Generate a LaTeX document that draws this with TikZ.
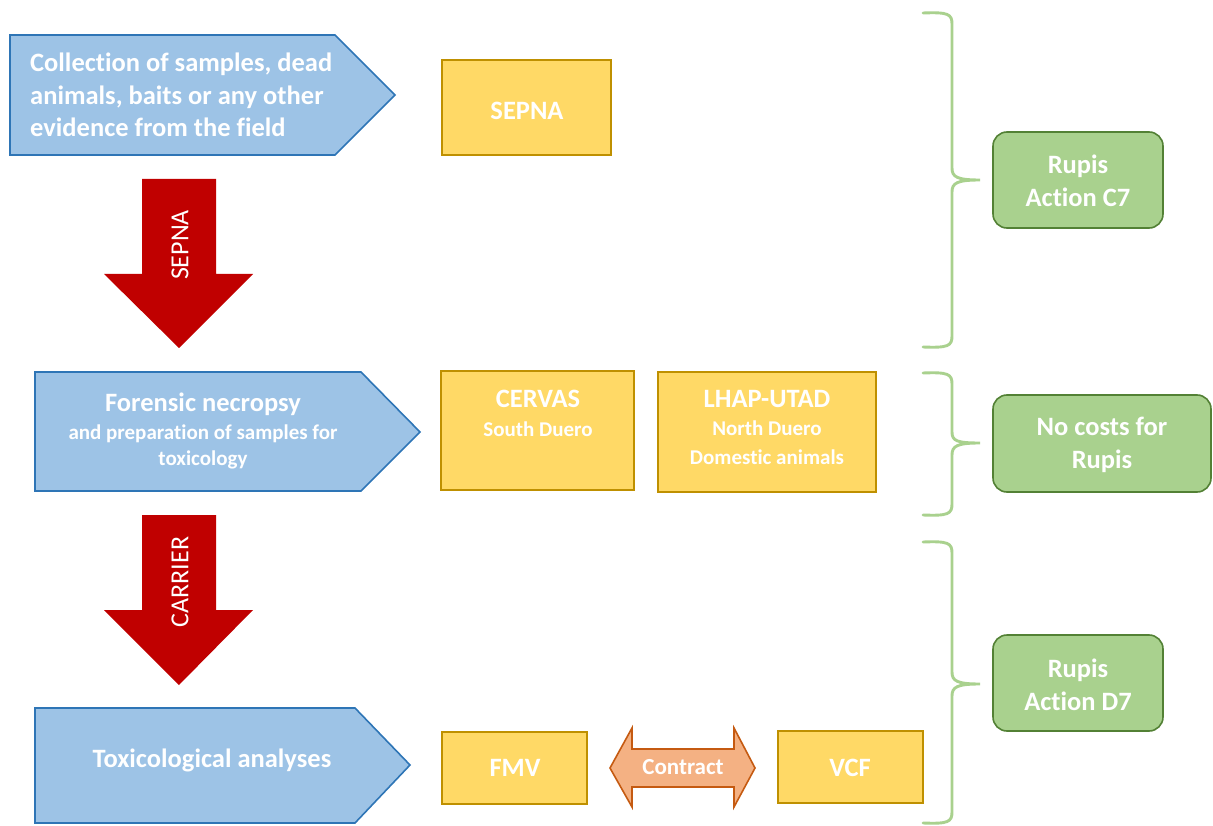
\documentclass[tikz,border=0pt]{standalone}
\usepackage{fontspec}
\setmainfont[Ligatures={NoCommon}]{Carlito}
\usetikzlibrary{positioning}
\definecolor{stageblue}{HTML}{9DC3E6}
\definecolor{stageedge}{HTML}{2E75B6}
\definecolor{labyellow}{HTML}{FFD966}
\definecolor{labedge}{HTML}{BF9000}
\definecolor{carryred}{HTML}{C00000}
\definecolor{dealfill}{HTML}{F4B183}
\definecolor{dealedge}{HTML}{C55A11}
\definecolor{fundgreen}{HTML}{A9D18E}
\definecolor{fundedge}{HTML}{538135}
\newcommand{\bigtxt}{\bfseries\fontsize{26.5}{32.5}\selectfont}
\newcommand{\smalltxt}{\bfseries\fontsize{21}{26}\selectfont}

\begin{document}
\begin{tikzpicture}[x=1pt, y=-1pt, line join=miter,
        stage/.style={fill=stageblue, draw=stageedge, line width=1.6pt},
        lab/.style={fill=labyellow, draw=labedge, line width=1.6pt},
        fund/.style={fill=fundgreen, draw=fundedge, line width=1.6pt, rounded corners=14pt},
        carry/.style={fill=carryred, draw=none},
        deal/.style={fill=dealfill, draw=dealedge, line width=1.6pt},
        brace/.style={draw=fundgreen, line width=2.9pt, line cap=round},
        txt/.style={text=white, inner sep=0pt, align=center, font=\bigtxt}]
        \useasboundingbox (0,0) rectangle (1213,826);

        % stages
        \draw[stage] (10,35) -- (335,35) -- (395,95) -- (335,155) -- (10,155) -- cycle;
        \draw[stage] (35,372) -- (361,372) -- (420,432) -- (361,491) -- (35,491) -- cycle;
        \draw[stage] (35,708) -- (355,708) -- (410,765) -- (355,823) -- (35,823) -- cycle;
        \node[txt, anchor=west, align=left] (collect) at (30,95)
            {Collection of samples, dead\\animals, baits or any other\\evidence from the field};
        \node[txt] (necropsy) at (203,431)
            {Forensic necropsy\\[-5pt]{\smalltxt and preparation of samples for}\\[-6pt]{\smalltxt toxicology}};
        \node[txt] (toxic) at (212,760) {Toxicological analyses};

        % carriers
        \draw[carry] (142,179) -- (216,179) -- (216,274) -- (253,274) -- (179,348)
            -- (104,274) -- (142,274) -- cycle;
        \draw[carry] (142,515) -- (216,515) -- (216,610) -- (253,610) -- (179,685)
            -- (104,610) -- (142,610) -- cycle;
        \node[txt, font=\fontsize{26}{30}\selectfont, rotate=90] (sepnaway) at (180,245) {SEPNA};
        \node[txt, font=\fontsize{26}{30}\selectfont, rotate=90] (carrier) at (180,582) {CARRIER};

        % laboratories
        \draw[lab] (442,60) rectangle (611,155);
        \draw[lab] (441,371) rectangle (634,490);
        \draw[lab] (658,372) rectangle (876,492);
        \draw[lab] (442,732) rectangle (587,804);
        \draw[lab] (778,731) rectangle (923,803);
        \node[txt] (sepna) at (527,111) {SEPNA};
        \node[txt, anchor=north] (cervas) at (538,390)
            {CERVAS\\[-4pt]{\smalltxt South Duero}};
        \node[txt, anchor=north] (lhap) at (767,390)
            {LHAP-UTAD\\[-4pt]{\smalltxt North Duero}\\[-4pt]{\smalltxt Domestic animals}};
        \node[txt] (fmv) at (515,768) {FMV};
        \node[txt] (vcf) at (850,768) {VCF};

        % contract
        \draw[deal] (610,768) -- (632,728) -- (632,749) -- (734,749) -- (734,728) -- (755,768)
            -- (734,807) -- (734,787) -- (632,787) -- (632,807) -- cycle;
        \node[txt, font=\bfseries\fontsize{23}{28}\selectfont] (contract) at (683,767) {Contract};

        % braces
        \draw[brace] (923,13) .. controls (948,12) and (952,14) .. (952,24) -- (952,168)
            .. controls (952,177) and (957,180) .. (980,180)
            .. controls (957,180) and (952,183) .. (952,192) -- (952,336)
            .. controls (952,346) and (948,348) .. (923,347);
        \draw[brace] (923,373) .. controls (948,372) and (952,374) .. (952,384) -- (952,432)
            .. controls (952,441) and (957,443) .. (980,443)
            .. controls (957,443) and (952,446) .. (952,455) -- (952,504)
            .. controls (952,514) and (948,516) .. (923,515);
        \draw[brace] (923,542) .. controls (948,541) and (952,543) .. (952,553) -- (952,672)
            .. controls (952,681) and (957,684) .. (980,684)
            .. controls (957,684) and (952,687) .. (952,696) -- (952,812)
            .. controls (952,822) and (948,824) .. (923,823);

        % funding
        \draw[fund] (993,132) rectangle (1163,228);
        \draw[fund] (993,395) rectangle (1211,492);
        \draw[fund] (993,635) rectangle (1163,731);
        \node[txt] (actc) at (1078,181) {Rupis\\Action C7};
        \node[txt] (nocost) at (1102,445) {No costs for\\Rupis};
        \node[txt] (actd) at (1078,685) {Rupis\\Action D7};
\end{tikzpicture}
\end{document}
